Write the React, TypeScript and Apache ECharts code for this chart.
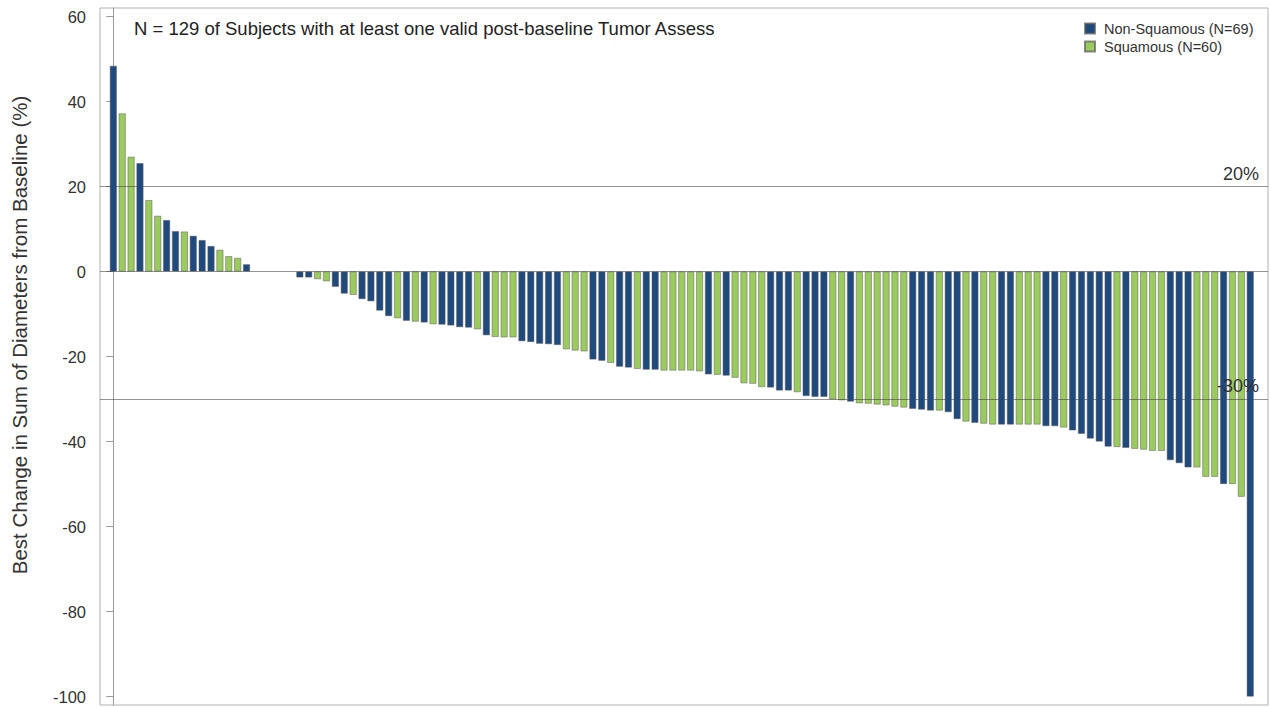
import React, { useEffect, useRef } from "react";
import * as echarts from "echarts";

// N = Non-Squamous, S = Squamous, one entry per subject (sorted waterfall order)
const subjectGroups: string[] = (
  "NSSNSSNNSN" + "NNSSSNNNNN" + "NNNSSNNSNN" + "NNSNSNSNNN" + "NSNSSSNNNN" +
  "NSSSNNSNNS" + "NNSSSSSNSN" + "SSSSNNNSNN" + "NSSNSSSSSS" + "NNNSNNSNSS" +
  "NNSSSNNSNN" + "NNNSNSSSSN" + "NNSSSNSSN"
).split("");

const bestChange: number[] = [
  48.4, 37.2, 27.0, 25.5, 16.8, 13.1, 12.1, 9.5, 9.4, 8.4,
  7.4, 6.0, 5.1, 3.6, 3.2, 1.7, 0, 0, 0, 0,
  0, -1.4, -1.4, -1.8, -2.3, -3.6, -5.2, -5.5, -6.5, -7.0,
  -9.2, -10.5, -11.0, -11.6, -11.8, -12.0, -12.4, -12.5, -12.7, -13.1,
  -13.2, -13.6, -15.0, -15.4, -15.5, -15.5, -16.4, -16.6, -17.0, -17.1,
  -17.3, -18.3, -18.6, -18.8, -20.7, -21.0, -21.5, -22.4, -22.6, -22.9,
  -23.1, -23.1, -23.3, -23.3, -23.3, -23.3, -23.5, -24.2, -24.3, -24.5,
  -25.0, -26.3, -26.4, -27.2, -27.3, -28.0, -28.0, -28.4, -29.3, -29.5,
  -29.5, -30.1, -30.3, -30.6, -31.0, -31.1, -31.3, -31.5, -31.8, -32.0,
  -32.3, -32.5, -32.7, -32.7, -33.1, -34.7, -35.3, -35.6, -35.8, -36.0,
  -36.0, -36.0, -36.0, -36.0, -36.0, -36.4, -36.4, -36.7, -37.4, -38.2,
  -39.3, -40.0, -41.2, -41.3, -41.5, -41.7, -41.9, -42.2, -42.2, -44.4,
  -45.1, -46.1, -46.1, -48.3, -48.3, -50.0, -50.0, -53.0, -100,
];

const yTicks: number[] = [60, 40, 20, 0, -20, -40, -60, -80, -100];
const refLineValues: number[] = [20, -30];
const refLineLabels: string[] = ["20%", "-30%"];
const seriesNames: string[] = ["Non-Squamous (N=69)", "Squamous (N=60)"];
const groupCodes: string[] = ["N", "S"];
const titleText = "N = 129 of Subjects with at least one valid post-baseline Tumor Assess";
const yTitle = "Best Change in Sum of Diameters from Baseline (%)";

const COLORS = ["#1F4A7E", "#9BCB5F"];
const FONT = "Liberation Sans, Arial, sans-serif";

export default function App() {
  const ref = useRef<HTMLDivElement>(null);

  useEffect(() => {
    if (!ref.current) return;
    const chart = echarts.init(ref.current, null, { renderer: "svg" });

    const series: any[] = groupCodes.map((code, gi) => ({
      type: "bar",
      name: seriesNames[gi],
      z: gi === 0 ? 5 : 2,
      data: bestChange
        .map((v, i) =>
          subjectGroups[i] === code
            ? v === 0
              ? { value: [i, v], itemStyle: { borderWidth: 0 } }
              : { value: [i, v] }
            : null
        )
        .filter((d) => d !== null),
      barWidth: 7,
      barGap: "-100%",
      itemStyle: {
        color: COLORS[gi],
        borderColor: "rgba(90,90,90,0.7)",
        borderWidth: 0.7,
      },
      emphasis: { disabled: true },
    }));

    series[0].markLine = {
      silent: true,
      symbol: "none",
      animation: false,
      lineStyle: { color: "rgba(60,60,60,0.55)", width: 1, type: "solid" },
      data: [
        { yAxis: 0, label: { show: false } },
        ...refLineValues.map((v, i) => ({
          yAxis: v,
          label: {
            show: true,
            formatter: refLineLabels[i],
            position: "insideEndTop",
            fontSize: 18,
            fontFamily: FONT,
            color: "#333",
            distance: [9, 4],
          },
        })),
      ],
    };

    chart.setOption({
      animation: false,
      textStyle: { fontFamily: FONT },
      grid: {
        left: 100,
        right: 3,
        top: 8,
        bottom: 2,
        show: true,
        borderColor: "#b0b0b0",
        borderWidth: 1,
        containLabel: false,
      },
      legend: {
        orient: "vertical",
        left: 1079,
        top: 16,
        itemWidth: 10,
        itemHeight: 10,
        itemGap: 3,
        icon: "rect",
        selectedMode: false,
        textStyle: { fontSize: 14.5, color: "#333", fontFamily: FONT, padding: [0, 0, 0, 4] },
        data: seriesNames,
      },
      xAxis: {
        type: "value",
        min: -1.5,
        max: 130,
        axisLine: { show: false },
        axisTick: { show: false },
        axisLabel: { show: false },
        splitLine: { show: false },
      },
      yAxis: {
        type: "value",
        min: -102,
        max: 62,
        axisLine: { show: true, lineStyle: { color: "#999" } },
        axisTick: { show: true, length: 7, lineStyle: { color: "#999" }, customValues: yTicks },
        axisLabel: {
          fontSize: 16.5,
          color: "#333",
          fontFamily: FONT,
          margin: 14,
          customValues: yTicks,
        },
        splitLine: { show: false },
      },
      graphic: [
        {
          type: "text",
          x: 134,
          y: 28,
          style: {
            text: titleText,
            fontSize: 18.5,
            fontFamily: FONT,
            fill: "#222",
            verticalAlign: "middle",
          },
        },
        {
          type: "text",
          x: 19,
          y: 335,
          rotation: Math.PI / 2,
          style: {
            text: yTitle,
            fontSize: 20.5,
            fontFamily: FONT,
            fill: "#333",
            align: "center",
            verticalAlign: "middle",
          },
        },
      ],
      series,
    });

    return () => chart.dispose();
  }, []);

  return (
    <div
      ref={ref}
      style={{ position: "absolute", left: 0, top: 0, width: 1271, height: 707, background: "#fff" }}
    />
  );
}
